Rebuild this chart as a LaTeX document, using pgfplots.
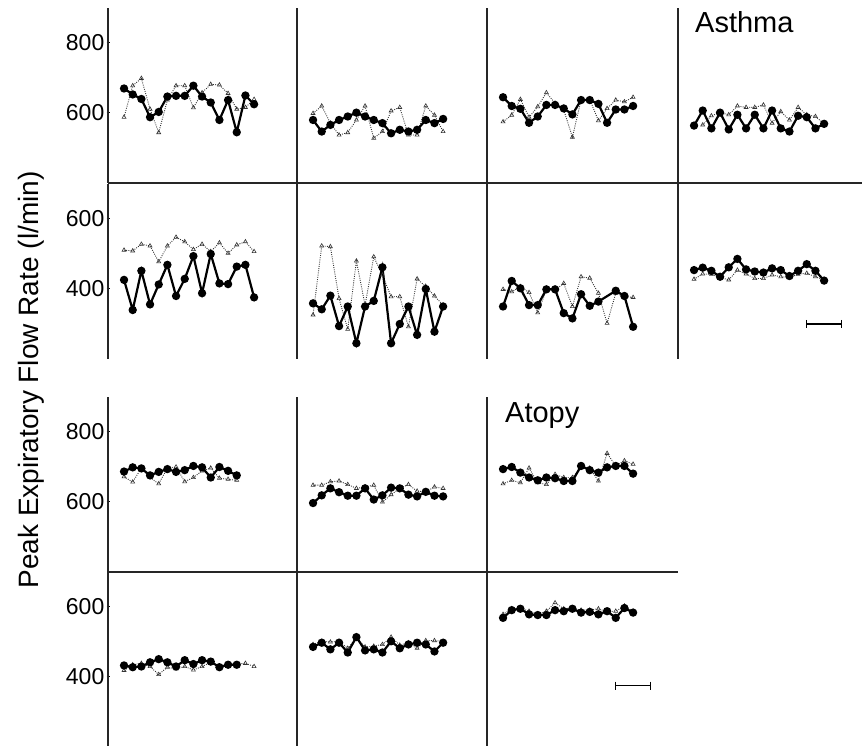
\documentclass[border=0pt]{standalone}
\usepackage{pgfplots}
\pgfplotsset{compat=1.18}
\usepackage{fontspec}
\setmainfont{Liberation Sans}
\pgfplotsset{
  base/.style={scale only axis, height=175pt, xmin=-0.85, xtick=\empty, ytick=\empty,
    clip=false,
    /pgf/number format/assume math mode=true,
    tick align=outside, major tick length=3pt, tick style={line width=1pt, black},
    yticklabel style={font=\fontsize{23}{23}\selectfont, anchor=east, inner sep=1pt, xshift=-1pt}},
  rowA/.style={ymin=400, ymax=900, axis x line=bottom, axis y line=left, axis line style={-, line width=1.1pt, black!85}},
  rowB/.style={ymin=200, ymax=700, axis x line=none, axis y line=left, axis line style={-, line width=1.1pt, black!85}},
  c1/.style={width=189pt, xmax=20.95},
  c2/.style={width=190pt, xmax=21.06},
  c3/.style={width=191pt, xmax=21.18},
  c4/.style={width=184pt, xmax=20.37},
  sol/.style={black, line width=2.2pt, mark=*, mark size=3pt},
  dot/.style={black!80, line width=0.9pt, dash pattern=on 0.9pt off 1.3pt, mark=triangle, mark size=2.3pt, mark options={solid, fill=white, line width=0.6pt}},
  bar/.style={black, line width=1.3pt, mark=|, mark size=4pt, mark options={line width=1.3pt}},
}
\begin{document}
\begin{tikzpicture}
\path[use as bounding box] (0pt,0pt) rectangle (862pt,746pt);
% ---------- Asthma row 1 ----------
\begin{axis}[base, rowA, c1, at={(108pt,563pt)}, anchor=south west, ytick={600,800}]
\addplot[dot] coordinates {(1,588)(2,678)(3,699)(4,611)(5,544)(6,637)(7,678)(8,678)(9,615)(10,658)(11,682)(12,680)(13,656)(14,611)(15,616)(16,639)};
\addplot[sol] coordinates {(1,670)(2,653)(3,640)(4,588)(5,603)(6,647)(7,649)(8,649)(9,678)(10,647)(11,630)(12,580)(13,637)(14,545)(15,650)(16,625)};
\end{axis}
\begin{axis}[base, rowA, c2, at={(297pt,563pt)}, anchor=south west]
\addplot[dot] coordinates {(1,599)(2,620)(3,571)(4,537)(5,544)(6,580)(7,620)(8,528)(9,547)(10,606)(11,616)(12,537)(13,537)(14,620)(15,594)(16,547)};
\addplot[sol] coordinates {(1,580)(2,547)(3,566)(4,580)(5,590)(6,601)(7,590)(8,580)(9,571)(10,542)(11,552)(12,547)(13,552)(14,580)(15,571)(16,583)};
\end{axis}
\begin{axis}[base, rowA, c3, at={(487pt,563pt)}, anchor=south west]
\addplot[dot] coordinates {(1,575)(2,594)(3,639)(4,588)(5,618)(6,658)(7,628)(8,609)(9,531)(10,637)(11,639)(12,578)(13,613)(14,637)(15,632)(16,645)};
\addplot[sol] coordinates {(1,645)(2,620)(3,612)(4,572)(5,590)(6,623)(7,623)(8,613)(9,596)(10,637)(11,637)(12,626)(13,572)(14,610)(15,610)(16,620)};
\end{axis}
\begin{axis}[base, rowA, c4, at={(678pt,563pt)}, anchor=south west]
\addplot[dot] coordinates {(2,566)(3,592)(4,601)(5,595)(6,620)(7,616)(8,616)(9,623)(10,571)(11,604)(12,580)(13,616)(14,595)(15,590)(16,569)};
\addplot[sol] coordinates {(1,564)(2,607)(3,556)(4,601)(5,553)(6,595)(7,556)(8,595)(9,556)(10,607)(11,556)(12,547)(13,592)(14,588)(15,556)(16,569)};
\end{axis}
% ---------- Asthma row 2 ----------
\begin{axis}[base, rowB, c1, at={(108pt,387pt)}, anchor=south west, ytick={400,600}]
\addplot[dot] coordinates {(1,511)(2,509)(3,528)(4,523)(5,478)(6,523)(7,548)(8,535)(9,513)(10,528)(11,507)(12,532)(13,502)(14,526)(15,535)(16,507)};
\addplot[sol] coordinates {(1,426)(2,340)(3,452)(4,356)(5,413)(6,469)(7,380)(8,429)(9,494)(10,388)(11,500)(12,416)(13,414)(14,464)(15,469)(16,376)};
\end{axis}
\begin{axis}[base, rowB, c2, at={(297pt,387pt)}, anchor=south west]
\addplot[dot] coordinates {(1,326)(2,523)(3,521)(4,373)(5,285)(6,480)(7,354)(8,492)(9,440)(10,378)(11,378)(12,292)(13,429)(14,407)(15,380)(16,354)};
\addplot[sol] coordinates {(1,359)(2,342)(3,381)(4,294)(5,350)(6,245)(7,350)(8,366)(9,462)(10,245)(11,300)(12,350)(13,269)(14,400)(15,278)(16,350)};
\end{axis}
\begin{axis}[base, rowB, c3, at={(487pt,387pt)}, anchor=south west]
\addplot[dot] coordinates {(1,399)(2,392)(3,407)(4,390)(5,332)(6,397)(7,397)(8,416)(9,350)(10,435)(11,431)(12,388)(13,302)(14,388)(15,378)(16,376)};
\addplot[sol] coordinates {(1,350)(2,423)(3,402)(4,354)(5,354)(6,399)(7,399)(8,331)(9,316)(10,385)(11,352)(12,364)(14,395)(15,380)(16,292)};
\end{axis}
\begin{axis}[base, rowB, c4, at={(678pt,387pt)}, anchor=south west]
\addplot[dot] coordinates {(1,428)(2,443)(3,442)(4,433)(5,426)(6,454)(7,443)(8,430)(9,430)(10,440)(11,435)(12,433)(13,442)(14,445)(15,435)(16,426)};
\addplot[sol] coordinates {(1,454)(2,461)(3,452)(4,435)(5,462)(6,486)(7,456)(8,450)(9,447)(10,459)(11,454)(12,437)(13,452)(14,471)(15,452)(16,424)};
\addplot[bar] coordinates {(14,300)(18,300)};
\end{axis}
% ---------- Atopy row 1 ----------
\begin{axis}[base, rowA, c1, at={(108pt,174pt)}, anchor=south west, ytick={600,800}]
\addplot[dot] coordinates {(1,672)(2,657)(3,697)(4,670)(5,652)(6,697)(7,700)(8,658)(9,670)(10,689)(11,697)(12,668)(13,665)(14,662)};
\addplot[sol] coordinates {(1,687)(2,699)(3,696)(4,676)(5,686)(6,694)(7,686)(8,691)(9,703)(10,699)(11,670)(12,700)(13,689)(14,676)};
\end{axis}
\begin{axis}[base, rowA, c2, at={(297pt,174pt)}, anchor=south west]
\addplot[dot] coordinates {(1,648)(2,648)(3,658)(4,660)(5,650)(6,639)(7,643)(8,648)(9,600)(10,621)(11,639)(12,650)(13,631)(14,629)(15,643)(16,639)};
\addplot[sol] coordinates {(1,597)(2,619)(3,639)(4,628)(5,618)(6,618)(7,639)(8,607)(9,619)(10,641)(11,639)(12,621)(13,616)(14,629)(15,618)(16,616)};
\end{axis}
\begin{axis}[base, rowA, c3, at={(487pt,174pt)}, anchor=south west]
\addplot[dot] coordinates {(1,652)(2,662)(3,655)(4,697)(5,655)(6,650)(7,679)(8,670)(9,670)(10,699)(11,697)(12,660)(13,739)(14,703)(15,718)(16,708)};
\addplot[sol] coordinates {(1,694)(2,700)(3,684)(4,670)(5,662)(6,670)(7,668)(8,660)(9,660)(10,703)(11,691)(12,684)(13,699)(14,703)(15,703)(16,681)};
\end{axis}
% ---------- Atopy row 2 ----------
\begin{axis}[base, rowB, c1, at={(108pt,-1pt)}, anchor=south west, ytick={400,600}]
\addplot[dot] coordinates {(1,419)(2,435)(3,439)(4,430)(5,407)(6,428)(7,423)(8,430)(9,420)(10,430)(11,442)(12,430)(13,437)(14,437)(15,439)(16,430)};
\addplot[sol] coordinates {(1,433)(2,428)(3,430)(4,442)(5,451)(6,442)(7,430)(8,448)(9,437)(10,448)(11,444)(12,428)(13,435)(14,435)};
\end{axis}
\begin{axis}[base, rowB, c2, at={(297pt,-1pt)}, anchor=south west]
\addplot[dot] coordinates {(1,493)(2,502)(3,500)(4,502)(5,482)(6,512)(7,486)(8,488)(9,493)(10,514)(11,491)(12,498)(13,482)(14,504)(15,504)(16,502)};
\addplot[sol] coordinates {(1,486)(2,498)(3,479)(4,498)(5,470)(6,514)(7,476)(8,479)(9,470)(10,502)(11,482)(12,493)(13,498)(14,493)(15,473)(16,498)};
\end{axis}
\begin{axis}[base, rowB, c3, at={(487pt,-1pt)}, anchor=south west]
\addplot[dot] coordinates {(1,579)(2,595)(3,597)(4,588)(5,579)(6,588)(7,612)(8,595)(9,597)(10,591)(11,591)(12,595)(13,586)(14,588)(15,603)(16,588)};
\addplot[sol] coordinates {(1,569)(2,591)(3,595)(4,579)(5,577)(6,577)(7,591)(8,588)(9,595)(10,584)(11,586)(12,579)(13,588)(14,569)(15,597)(16,584)};
\addplot[bar] coordinates {(14,375)(18,375)};
\end{axis}
% ---------- Texts ----------
\node[rotate=90, anchor=base, font=\fontsize{28}{28}\selectfont] at (38pt,366pt) {Peak Expiratory Flow Rate (l/min)};
\node[anchor=base west, inner sep=0pt, font=\fontsize{29}{29}\selectfont] at (695pt,713pt) {Asthma};
\node[anchor=base west, inner sep=0pt, font=\fontsize{29}{29}\selectfont] at (505pt,323pt) {Atopy};
\end{tikzpicture}
\end{document}
